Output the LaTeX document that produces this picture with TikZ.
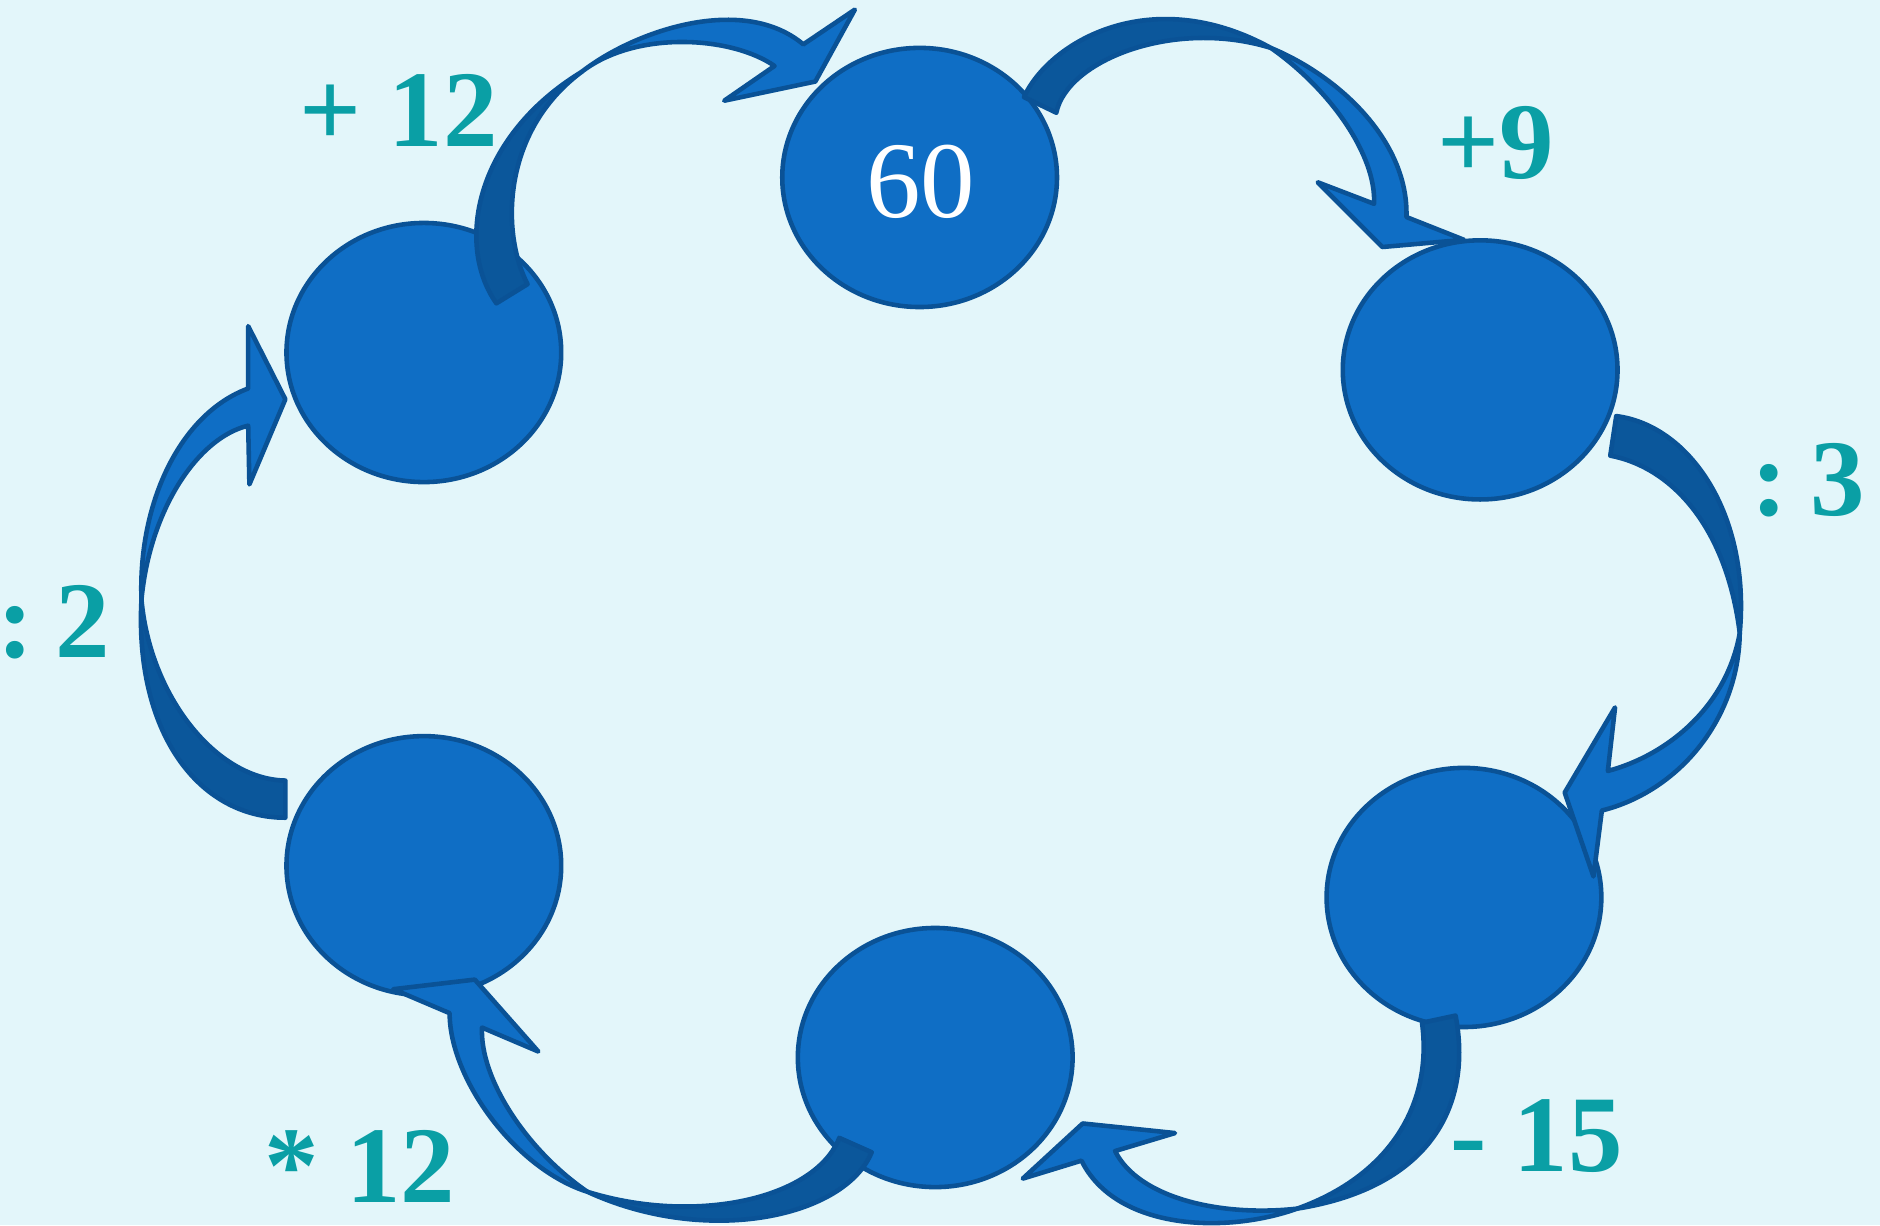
\documentclass[tikz,border=0pt]{standalone}
\usepackage{fontspec}
\setmainfont{Liberation Serif}
\usetikzlibrary{shapes.geometric}
\definecolor{bgc}{RGB}{227,246,250}
\definecolor{circc}{RGB}{15,110,197}
\definecolor{edgec}{RGB}{10,82,150}
\definecolor{darkc}{RGB}{11,87,155}
\definecolor{tealc}{RGB}{10,159,165}
\begin{document}
\begin{tikzpicture}[x=0.012cm,y=-0.012cm,
  circ/.style={ellipse, draw=edgec, fill=circc, line width=1.3pt,
    minimum width=2.748cm, minimum height=2.592cm, inner sep=0pt},
  arrlight/.style={fill=circc, draw=edgec, line width=1.3pt, line join=round},
  arrdark/.style={fill=darkc, draw=edgec, line width=1.3pt, line join=round},
  lbl/.style={text=tealc, font=\bfseries\fontsize{31}{37}\selectfont, anchor=base west, inner sep=0pt},
  numtxt/.style={text=white, font=\fontsize{31}{37}\selectfont, anchor=base, inner sep=0pt}]
\fill[bgc] (0,0) rectangle (1568,1022);
\useasboundingbox (0,0) rectangle (1568,1022);

% circles
\node[circ] (ctop) at (767,148) {};
\node[circ] (cul) at (353.5,294) {};
\node[circ] (cur) at (1234.5,308.5) {};
\node[circ] (clr) at (1221,748.5) {};
\node[circ] (cbot) at (780,882) {};
\node[circ] (cll) at (353.5,722) {};
\node[numtxt] (t60) at (768,181) {60};

% arrow 1: UL -> top
\filldraw[arrdark] (414,253) .. controls (380,205) and (395,115) .. (485,60)
  .. controls (418,110) and (418,195) .. (440,237) -- cycle;
\filldraw[arrlight] (485,60) .. controls (530,25) and (620,-5) .. (670,37)
  -- (713,8) -- (680,68) -- (604,84) -- (646,55)
  .. controls (610,30) and (530,25) .. (485,60) -- cycle;

% arrow 2: top -> UR
\filldraw[arrdark] (854,81) .. controls (875,35) and (960,-15) .. (1060,40)
  .. controls (980,15) and (890,50) .. (881,94) -- cycle;
\filldraw[arrlight] (1060,40) .. controls (1120,65) and (1175,120) .. (1173,181)
  -- (1221,200) -- (1153,206) -- (1099,152) -- (1146,170)
  .. controls (1148,130) and (1110,75) .. (1060,40) -- cycle;

% arrow 3: UR -> LR
\filldraw[arrdark] (1348,347) .. controls (1410,355) and (1460,430) .. (1451,528)
  .. controls (1440,440) and (1395,390) .. (1343,380) -- cycle;
\filldraw[arrlight] (1451,528) .. controls (1450,600) and (1400,660) .. (1336,676)
  -- (1329,731) -- (1305,661) -- (1347,590) -- (1341,643)
  .. controls (1390,630) and (1440,590) .. (1451,528) -- cycle;

% arrow 4: LR -> bottom
\filldraw[arrdark] (1214,847) .. controls (1228,920) and (1195,990) .. (1082,1008)
  .. controls (1160,980) and (1195,920) .. (1186,853) -- cycle;
\filldraw[arrlight] (1082,1008) .. controls (1020,1030) and (930,1025) .. (902,968)
  -- (853,983) -- (903,937) -- (980,945) -- (930,960)
  .. controls (950,1000) and (1020,1015) .. (1082,1008) -- cycle;

% arrow 5: bottom -> LL
\filldraw[arrdark] (727,961) .. controls (705,1015) and (590,1040) .. (490,994)
  .. controls (580,1022) and (680,1000) .. (700,949) -- cycle;
\filldraw[arrlight] (490,994) .. controls (430,975) and (375,900) .. (375,845)
  -- (328,825) -- (396,817) -- (449,877) -- (402,857)
  .. controls (400,900) and (440,960) .. (490,994) -- cycle;

% arrow 6: LL -> UL
\filldraw[arrdark] (238,682) .. controls (165,682) and (112,610) .. (118,500)
  .. controls (125,580) and (180,650) .. (238,651) -- cycle;
\filldraw[arrlight] (118,500) .. controls (115,420) and (150,345) .. (207,324)
  -- (207,272) -- (238,333) -- (208,404) -- (207,355)
  .. controls (165,365) and (125,425) .. (118,500) -- cycle;

% labels
\node[lbl] (l1) at (249,122) {+ 12};
\node[lbl] (l2) at (1198,149) {+9};
\node[lbl] (l3) at (1460,430) {:\kern6.6pt 3};
\node[lbl] (l4) at (-3,548) {:\kern6.2pt 2};
\node[lbl] (l5) at (1209,977) {- 15};
\node[lbl] (l6) at (220,1003) {* 12};
\end{tikzpicture}
\end{document}
